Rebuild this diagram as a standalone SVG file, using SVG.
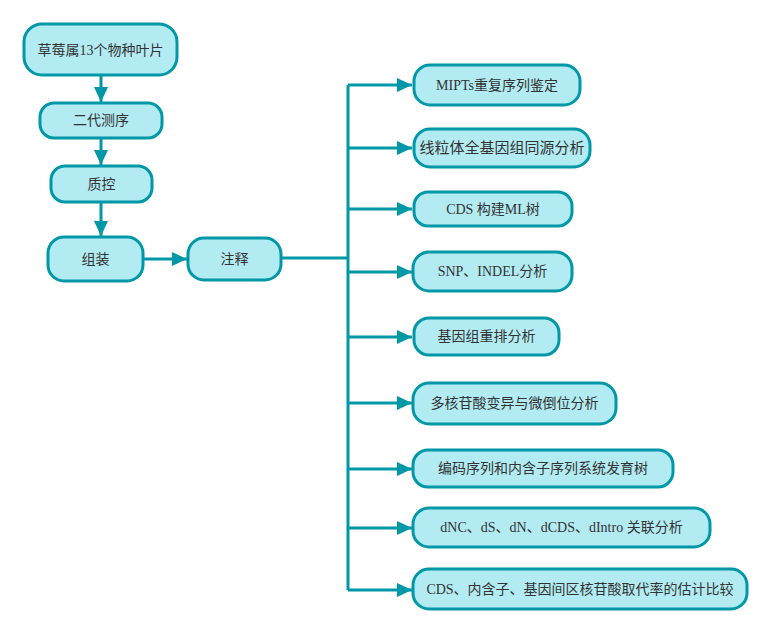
<svg xmlns="http://www.w3.org/2000/svg" width="770" height="632" viewBox="0 0 770 632">
<style>
.n{fill:#b2ebf2;stroke:#0097a7;stroke-width:3}
.t{font-family:"Liberation Serif","Noto Sans CJK SC",serif;font-size:14px;fill:#333;text-anchor:middle;dominant-baseline:central}
.c{fill:none;stroke:#0097a7;stroke-width:3}
</style>
<defs>
<marker id="a" markerUnits="userSpaceOnUse" markerWidth="16" markerHeight="14" refX="15" refY="7" orient="auto">
<path d="M0,0 L15,7 L0,14 Z" fill="#0097a7"/>
</marker>
</defs>
<rect width="770" height="632" fill="#fff"/>
<g id="connectors">
<path class="c" d="M101,76 V102" marker-end="url(#a)"/>
<path class="c" d="M101,138 V165" marker-end="url(#a)"/>
<path class="c" d="M101,202 V236" marker-end="url(#a)"/>
<path class="c" d="M143,259 H187" marker-end="url(#a)"/>
<path class="c" d="M281,258 H348"/>
<path class="c" d="M348,85 V590"/>
<path class="c" d="M348,85 H412" marker-end="url(#a)"/>
<path class="c" d="M348,148 H412" marker-end="url(#a)"/>
<path class="c" d="M348,209 H412" marker-end="url(#a)"/>
<path class="c" d="M348,272 H412" marker-end="url(#a)"/>
<path class="c" d="M348,337 H412" marker-end="url(#a)"/>
<path class="c" d="M348,403 H412" marker-end="url(#a)"/>
<path class="c" d="M348,469 H412" marker-end="url(#a)"/>
<path class="c" d="M348,528 H412" marker-end="url(#a)"/>
<path class="c" d="M348,590 H412" marker-end="url(#a)"/>
</g>
<g id="n1"><rect class="n" x="24" y="24" width="153" height="51" rx="18"/><text class="t" x="100.5" y="50">草莓属13个物种叶片</text></g>
<g id="n2"><rect class="n" x="40" y="103" width="122" height="35" rx="14"/><text class="t" x="101" y="120.5">二代测序</text></g>
<g id="n3"><rect class="n" x="51" y="166" width="101" height="36" rx="14"/><text class="t" x="101.5" y="184">质控</text></g>
<g id="n4"><rect class="n" x="48" y="237" width="95" height="44" rx="16"/><text class="t" x="95.5" y="259">组装</text></g>
<g id="n5"><rect class="n" x="188" y="238" width="93" height="42" rx="16"/><text class="t" x="234.5" y="259">注释</text></g>
<g id="r1"><rect class="n" x="414" y="65" width="166" height="40" rx="16"/><text class="t" x="497" y="85">MIPTs重复序列鉴定</text></g>
<g id="r2"><rect class="n" x="414" y="129" width="176" height="38" rx="16"/><text class="t" x="502" y="148" style="font-size:15px">线粒体全基因组同源分析</text></g>
<g id="r3"><rect class="n" x="414" y="192" width="158" height="34" rx="14"/><text class="t" x="493" y="209">CDS 构建ML树</text></g>
<g id="r4"><rect class="n" x="413" y="252" width="159" height="39" rx="16"/><text class="t" x="492.5" y="271.5">SNP、INDEL分析</text></g>
<g id="r5"><rect class="n" x="414" y="318" width="145" height="37" rx="15"/><text class="t" x="486.5" y="336.5">基因组重排分析</text></g>
<g id="r6"><rect class="n" x="413" y="383" width="203" height="41" rx="16"/><text class="t" x="514.5" y="403.5">多核苷酸变异与微倒位分析</text></g>
<g id="r7"><rect class="n" x="413" y="450" width="260" height="37" rx="15"/><text class="t" x="543" y="468.5">编码序列和内含子序列系统发育树</text></g>
<g id="r8"><rect class="n" x="413" y="508" width="297" height="39" rx="16"/><text class="t" x="561.5" y="527.5">dNC、dS、dN、dCDS、dIntro 关联分析</text></g>
<g id="r9"><rect class="n" x="413" y="569" width="334" height="40" rx="16"/><text class="t" x="580" y="589">CDS、内含子、基因间区核苷酸取代率的估计比较</text></g>
</svg>
